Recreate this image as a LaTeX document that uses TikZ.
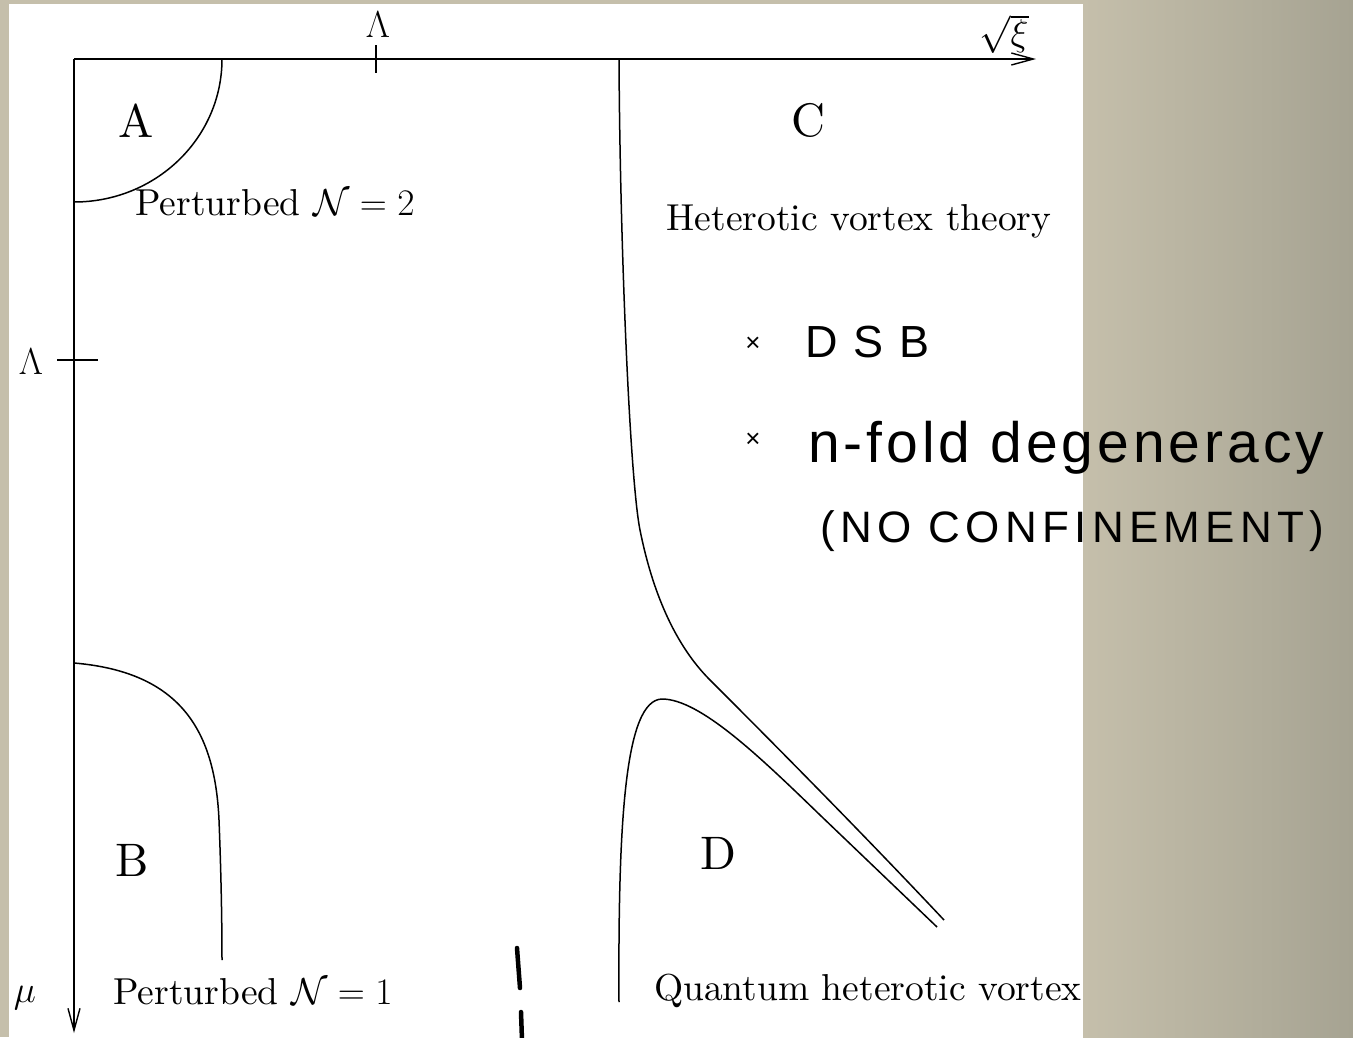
\RequirePackage{fix-cm}
\documentclass[tikz,border=0pt]{standalone}
\usepackage{fontspec}
\setmainfont{lmroman10-regular.otf}
\newfontfamily\handfont{Liberation Sans}
\usetikzlibrary{arrows.meta}
\definecolor{bgl}{RGB}{197,191,171}
\definecolor{bgr}{RGB}{166,163,146}
\begin{document}
\begin{tikzpicture}[x=1pt,y=-1pt,
  txt/.style={inner sep=0pt, font=\fontsize{37.5}{45}\selectfont},
  reg/.style={inner sep=0pt, font=\fontsize{47}{56}\selectfont},
  curve/.style={line width=1.5pt},
  axis/.style={line width=1.8pt, -{Straight Barb[length=22pt,width=12pt,line width=1.4pt]}},
  tick/.style={line width=1.6pt},
  hand/.style={inner sep=0pt, font=\handfont\fontsize{45}{54}\selectfont},
  stroke/.style={line width=4.5pt, line cap=round}]
\useasboundingbox (0,0) rectangle (1353,1037);
\fill[bgl] (0,0) rectangle (1353,1037);
\shade[left color=bgl, right color=bgr] (1083,0) rectangle (1353,1037);
\fill[white] (9,4) rectangle (1083,1037);

% axes
\coordinate (O) at (74,59);
\coordinate (xend) at (1036,59);
\coordinate (yend) at (74,1033);
\draw[axis] (O) -- (xend);
\draw[axis] (O) -- (yend);

% ticks
\coordinate (tx1) at (376,45); \coordinate (tx2) at (376,73);
\coordinate (ty1) at (57,360); \coordinate (ty2) at (98,360);
\draw[tick] (tx1) -- (tx2);
\draw[tick] (ty1) -- (ty2);

\node[txt] (lamx) at (378,25) {$\Lambda$};
\node[txt] (lamy) at (31,362) {$\Lambda$};
\node[txt] (xi) at (1004,34) {$\sqrt{\xi}$};
\node[txt, anchor=base] (mu) at (25,1002) {$\mu$};

% curves
\coordinate (a1) at (222,59); \coordinate (a2) at (74,202);
\draw[curve] (a1) .. controls (222,138) and (156,202) .. (a2);

\coordinate (b1) at (74,663); \coordinate (b2) at (219,820); \coordinate (b3) at (222,960);
\draw[curve] (b1) .. controls (180,672) and (215,730) .. (b2) .. controls (221,870) and (222,920) .. (b3);

\coordinate (c1) at (619,59); \coordinate (c2) at (640,530); \coordinate (c3) at (710,680); \coordinate (c4) at (944,920);
\draw[curve] (c1) .. controls (620,250) and (630,480) .. (c2)
  .. controls (652,590) and (674,644) .. (c3)
  .. controls (745,715) and (850,820) .. (c4);

\coordinate (d1) at (619,1002); \coordinate (d2) at (662,699); \coordinate (d3) at (820,815); \coordinate (d4) at (937,927);
\draw[curve] (d1) .. controls (618,820) and (625,700) .. (d2) .. controls (700,699) and (760,757) .. (d3) -- (d4);

% region labels
\node[reg, anchor=base] (A) at (136,137) {A};
\node[reg, anchor=base] (B) at (132,876) {B};
\node[reg, anchor=base] (C) at (808,136) {C};
\node[reg, anchor=base] (D) at (718,869) {D};

\node[txt, anchor=base] (p2) at (275,215) {Perturbed $\mathcal{N}=2$};
\node[txt, anchor=base] (het) at (859,230) {Heterotic vortex theory};
\node[txt, anchor=base] (p1) at (253,1004) {Perturbed $\mathcal{N}=1$};
\begin{scope}
  \clip (9,4) rectangle (1083,1037);
  \node[txt, anchor=base west] (qhv) at (654,1000) {Quantum heterotic vortex};
\end{scope}

% handwritten notes
\node[hand, font=\handfont\fontsize{26}{30}\selectfont] (x1) at (753,344) {×};
\node[hand, font=\handfont\fontsize{26}{30}\selectfont] (x2) at (753,440) {×};
\node[hand, anchor=base west] (dsb) at (805,357) {\addfontfeatures{LetterSpace=35}DSB};
\node[hand, anchor=base west, font=\handfont\fontsize{57}{60}\selectfont] (nfold) at (808,462) {\addfontfeatures{LetterSpace=7}n-fold degeneracy};
\node[hand, anchor=base west, font=\handfont\fontsize{44}{50}\selectfont] (noconf) at (820,542) {\addfontfeatures{LetterSpace=12}(NO CONFINEMENT)};

% hand strokes
\coordinate (s1a) at (517,948); \coordinate (s1b) at (520,988);
\coordinate (s2a) at (521,1012); \coordinate (s2b) at (522,1040);
\draw[stroke] (s1a) -- (s1b);
\draw[stroke] (s2a) -- (s2b);
\end{tikzpicture}
\end{document}
